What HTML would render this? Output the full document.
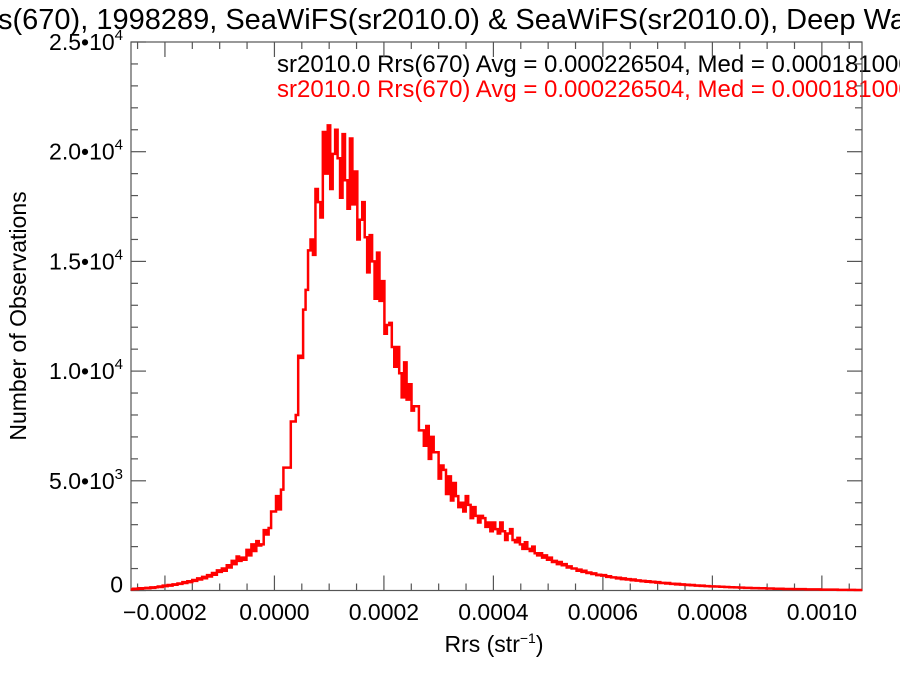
<!DOCTYPE html>
<html><head><meta charset="utf-8"><style>
html,body{margin:0;padding:0;background:#fff;}
svg{display:block;font-family:"Liberation Sans",sans-serif;}
</style></head><body>
<svg id="chart" width="900" height="675" viewBox="0 0 900 675">
<text x="-2" y="29" font-size="29" fill="#000">s(670), 1998289, SeaWiFS(sr2010.0) &amp; SeaWiFS(sr2010.0), Deep Water</text>
<text x="277" y="72" font-size="24" fill="#000">sr2010.0 Rrs(670) Avg = 0.000226504, Med = 0.000181000</text>
<text x="277" y="97" font-size="24" fill="#ff0000">sr2010.0 Rrs(670) Avg = 0.000226504, Med = 0.000181000</text>
<g id="axes"></g>
<g id="series"></g>
<text x="494" y="652" font-size="23" text-anchor="middle">Rrs (str<tspan dy="-9" font-size="14">−1</tspan><tspan dy="9">)</tspan></text>
<text transform="translate(26,316) rotate(-90)" font-size="23" text-anchor="middle">Number of Observations</text>
</svg>
<script>
const binStart = -0.0002626;
const binWidth = 0.0000045;
const counts = [
0.05,0.08,0.06,0.1,0.08,0.1,0.12,0.1,0.14,0.12,
0.15,0.18,0.16,0.22,0.2,0.25,0.22,0.28,0.26,0.32,
0.3,0.38,0.34,0.42,0.38,0.48,0.44,0.55,0.5,0.62,
0.56,0.7,0.64,0.8,0.72,0.92,0.85,1.0,0.9,1.15,
1.05,1.35,1.2,1.55,1.35,1.5,1.4,1.85,1.6,2.1,
1.8,2.25,2.05,2.1,2.75,2.55,2.85,3.6,3.6,4.3,
3.7,4.6,5.6,5.6,5.6,7.7,7.7,8.0,10.7,10.6,
12.8,13.7,15.5,16.0,15.3,18.3,17.7,17.0,20.9,19.0,
21.2,18.3,19.9,21.0,19.7,17.9,20.8,18.7,17.4,20.6,
17.6,19.1,16.0,16.9,17.7,16.1,14.5,16.2,15.0,13.3,
15.4,13.2,14.1,11.7,12.1,12.2,11.1,10.2,11.1,9.9,
8.8,10.4,8.7,9.4,8.2,8.4,8.4,7.3,7.3,6.6,
7.5,6.0,7.0,6.3,6.3,5.1,5.7,5.5,4.4,5.2,
4.1,4.9,4.3,3.8,4.0,3.6,4.3,3.9,3.3,3.8,
3.4,3.1,3.4,3.3,2.9,3.1,2.7,3.1,2.8,2.6,
3.1,2.7,2.3,2.6,2.8,2.3,2.2,2.4,2.1,1.9,
2.2,1.9,1.8,2.0,1.7,1.6,1.7,1.5,1.6,1.4,
1.5,1.3,1.35,1.2,1.3,1.15,1.2,1.05,1.1,1.0,
1.0,0.9,0.95,0.85,0.9,0.8,0.82,0.75,0.78,0.7,
0.72,0.68,0.7,0.62,0.65,0.6,0.6,0.55,0.58,0.52,
0.55,0.5,0.52,0.47,0.5,0.45,0.46,0.42,0.44,0.4,
0.42,0.38,0.4,0.36,0.38,0.34,0.35,0.32,0.34,0.3,
0.31,0.28,0.3,0.27,0.28,0.25,0.26,0.24,0.25,0.22,
0.23,0.21,0.22,0.2,0.2,0.19,0.19,0.18,0.18,0.17,
0.17,0.16,0.16,0.15,0.15,0.14,0.14,0.13,0.13,0.12,
0.12,0.12,0.11,0.11,0.11,0.1,0.1,0.1,0.09,0.09,
0.09,0.08,0.08,0.08,0.08,0.07,0.07,0.07,0.07,0.06,
0.06,0.06,0.06,0.06,0.05,0.05,0.05,0.05,0.05,0.05,
0.04,0.04,0.04,0.04,0.04,0.04,0.04,0.03,0.03,0.03,
0.03,0.03,0.03,0.03,0.02,0.02,0.02
];
const xTickValues = [-0.0002,0.0000,0.0002,0.0004,0.0006,0.0008,0.0010];
const xTickLabels = ["\u22120.0002","0.0000","0.0002","0.0004","0.0006","0.0008","0.0010"];
const yTickValues = [0,5000,10000,15000,20000,25000];
const yTickMant = ["0","5.0","1.0","1.5","2.0","2.5"];
const yTickExp = ["","3","4","4","4","4"];

const L=131,R=862,T=42,B=590.5;
const xMin=-0.000262, xMax=0.0010733, yMax=25000;
const xs=v=>L+(v-xMin)/(xMax-xMin)*(R-L);
const ys=v=>B-v/yMax*(B-T);
const NS="http://www.w3.org/2000/svg";
function mk(tag,attrs,parent){const e=document.createElementNS(NS,tag);for(const k in attrs)e.setAttribute(k,attrs[k]);parent.appendChild(e);return e;}
const axes=document.getElementById('axes');
const series=document.getElementById('series');
const ax='#555';
const frame=mk('rect',{x:L,y:T,width:R-L,height:B-T,fill:'none',stroke:ax,'stroke-width':1.2},axes);


for(let i=-5;i<=21;i++){
  const v=i*0.00005; const x=xs(v); if(x<L||x>R)continue;
  const major=(i%4===0); const len=major?15:7;
  const t1=mk('line',{x1:x,x2:x,y1:B,y2:B-len,stroke:ax,'stroke-width':1.2},axes);
  
  
  const t2=mk('line',{x1:x,x2:x,y1:T,y2:T+len,stroke:ax,'stroke-width':1.2},axes);
  
  
}
xTickValues.forEach((v,i)=>{
  const t=mk('text',{x:xs(v),y:620,'font-size':23,'text-anchor':'middle'},axes);
  t.textContent=xTickLabels[i];
  
  
});
for(let v=0;v<=25000;v+=1000){
  const y=ys(v); const len=(v%5000===0)?15:7;
  const t1=mk('line',{x1:L,x2:L+len,y1:y,y2:y,stroke:ax,'stroke-width':1.2},axes);
  
  
  const t2=mk('line',{x1:R,x2:R-len,y1:y,y2:y,stroke:ax,'stroke-width':1.2},axes);
  
  
}
yTickValues.forEach((v,i)=>{
  const t=mk('text',{x:123,y:ys(v)+8,'font-size':23,'text-anchor':'end'},axes);
  
  
  if(yTickExp[i]===""){t.textContent=yTickMant[i];t.setAttribute('y',ys(v)+2);}
  else{
    t.textContent=yTickMant[i]+"\u202210";
    const s=document.createElementNS(NS,'tspan');
    s.setAttribute('dy','-10');s.setAttribute('font-size','15');
    s.textContent=yTickExp[i];t.appendChild(s);
  }
});
let d='';
counts.forEach((c,i)=>{
  const x0=xs(binStart+i*binWidth), x1=xs(binStart+(i+1)*binWidth), y=ys(c*1000);
  d+=(i===0?'M'+x0+','+y:'L'+x0+','+y)+'L'+x1+','+y;
});
const path=mk('path',{d:d,fill:'none',stroke:'#ff0000','stroke-width':2.5,'stroke-linejoin':'miter'},series);


</script>
</body></html>
